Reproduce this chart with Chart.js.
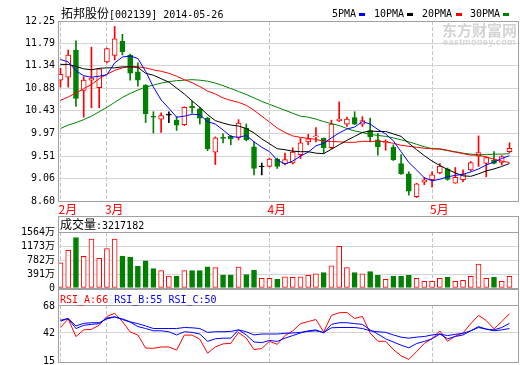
<!DOCTYPE html>
<html>
<head>
<meta charset="utf-8">
<script src="https://cdn.jsdelivr.net/npm/chart.js@4.4.1/dist/chart.umd.min.js"></script>
<style>
  html, body { margin: 0; padding: 0; background: #fff; }
  body { width: 520px; height: 365px; position: relative; overflow: hidden; }
  canvas { position: absolute; left: 0; }
  .txt { position: absolute; white-space: nowrap; font-family: "DejaVu Sans Mono", monospace; font-size: 10px; line-height: 12px; z-index: 5; }
  .cn { font-family: "Noto Sans CJK SC"; font-size: 12px; }
  .dash { position: absolute; width: 6px; height: 3px; z-index: 5; }
</style>
</head>
<body>
<canvas id="priceChart" width="520" height="216" style="top:0"></canvas>
<canvas id="volChart" width="520" height="81" style="top:216px"></canvas>
<canvas id="rsiChart" width="520" height="82" style="top:289px"></canvas>

<div class="txt" style="left:61px;top:7px"><span class="cn">拓邦股份</span>[002139] 2014-05-26</div>

<div class="txt" style="left:332px;top:8px">5PMA</div><div class="dash" style="left:359px;top:13px;background:#0000ff"></div>
<div class="txt" style="left:374px;top:8px">10PMA</div><div class="dash" style="left:407px;top:13px;background:#000"></div>
<div class="txt" style="left:422px;top:8px">20PMA</div><div class="dash" style="left:456px;top:13px;background:#ff0000"></div>
<div class="txt" style="left:470px;top:8px">30PMA</div><div class="dash" style="left:503px;top:13px;background:#008000"></div>

<div class="txt" style="left:442px;top:21px;font-family:'Noto Sans CJK SC';font-size:15px;font-weight:bold;color:#d4d4d4;line-height:17px">东方财富网</div>
<div class="txt" style="left:443px;top:37px;font-family:'Liberation Sans';font-size:9px;font-weight:bold;color:#d4d4d4;line-height:10px;letter-spacing:0.4px">eastmoney.com</div>

<div class="txt" style="left:60px;top:218px"><span class="cn">成交量</span>:3217182</div>
<div class="txt" style="left:60px;top:294px"><span style="color:#ff0000">RSI_A:66</span> <span style="color:#0000ff">RSI_B:55</span> <span style="color:#0000ff">RSI_C:50</span></div>

<script>
// daily candles, 2014-02-21 .. 2014-05
const open  = [11.05,11.11,11.66,10.84,11.05,10.90,11.42,11.55,11.84,11.56,11.22,10.95,10.32,10.26,10.34,10.24,10.15,10.52,10.47,10.28,
               9.59,9.88,9.91,9.89,10.08,9.70,9.29,9.30,9.45,9.35,9.37,9.54,9.80,9.90,9.87,9.68,10.23,10.16,10.29,10.16,
               10.03,9.84,9.79,9.69,9.36,9.15,8.69,8.98,9.03,9.17,9.24,8.96,9.03,9.23,9.51,9.36,9.43,9.38,9.60];
const high  = [11.29,11.66,11.85,11.12,11.72,11.29,11.70,12.14,11.98,11.58,11.40,10.96,10.41,10.39,10.41,10.31,10.51,10.62,10.50,10.30,
               9.90,9.96,9.93,10.25,10.16,9.80,9.37,9.47,9.47,9.57,9.68,9.87,9.95,10.09,9.88,10.24,10.61,10.30,10.41,10.31,
               10.28,9.97,9.84,9.74,9.54,9.19,8.96,9.08,9.19,9.36,9.27,9.28,9.23,9.40,9.92,9.50,9.60,9.52,9.78];
const low   = [10.91,10.91,10.52,10.30,10.49,10.49,11.40,11.46,11.56,11.05,10.93,10.19,9.98,9.99,10.19,10.03,10.13,10.38,10.16,9.62,
               9.34,9.78,9.74,9.84,9.82,9.13,9.13,9.29,9.26,9.33,9.35,9.46,9.74,9.80,9.57,9.66,10.21,10.11,10.15,10.11,
               9.80,9.53,9.63,9.42,9.14,8.72,8.67,8.93,8.88,9.15,9.02,8.96,8.99,9.21,9.30,9.09,9.35,9.33,9.58];
const close = [11.17,11.56,10.68,11.05,11.09,11.28,11.69,11.89,11.63,11.19,11.05,10.37,10.30,10.33,10.34,10.14,10.50,10.49,10.28,9.66,
               9.88,9.87,9.86,10.18,9.84,9.26,9.29,9.45,9.30,9.44,9.59,9.78,9.86,9.92,9.68,10.16,10.26,10.26,10.16,10.23,
               9.90,9.70,9.81,9.44,9.15,8.80,8.95,9.03,9.13,9.31,9.04,9.08,9.15,9.38,9.58,9.48,9.36,9.50,9.67];

const ma5  = [11.47,11.42,11.24,11.14,11.11,11.13,11.16,11.40,11.52,11.54,11.49,11.23,10.91,10.65,10.48,10.30,10.32,10.36,10.35,10.21,
              10.16,10.04,9.91,9.89,9.93,9.80,9.69,9.60,9.43,9.35,9.41,9.51,9.59,9.72,9.77,9.88,9.98,10.06,10.10,10.21,
              10.16,10.05,9.96,9.82,9.60,9.38,9.23,9.07,9.01,9.04,9.09,9.12,9.14,9.19,9.25,9.33,9.39,9.46,9.52];
const ma10 = [11.37,11.37,11.33,11.28,11.26,11.29,11.30,11.30,11.32,11.32,11.31,11.19,11.15,11.08,11.01,10.89,10.77,10.63,10.50,10.35,
              10.23,10.18,10.14,10.12,10.07,9.98,9.86,9.76,9.66,9.64,9.61,9.60,9.60,9.57,9.56,9.65,9.74,9.83,9.91,9.99,
              10.02,10.01,10.01,9.96,9.91,9.77,9.64,9.52,9.41,9.32,9.24,9.17,9.11,9.10,9.15,9.21,9.25,9.30,9.36];
const ma20 = [10.64,10.71,10.79,10.88,10.96,11.08,11.17,11.25,11.30,11.33,11.32,11.30,11.26,11.23,11.19,11.13,11.06,11.00,10.92,10.83,
              10.77,10.69,10.64,10.60,10.54,10.44,10.32,10.20,10.08,9.99,9.92,9.89,9.87,9.85,9.81,9.81,9.80,9.79,9.79,9.81,
              9.81,9.81,9.80,9.77,9.73,9.71,9.69,9.67,9.66,9.66,9.63,9.59,9.56,9.53,9.53,9.49,9.45,9.41,9.38];
const ma30 = [10.07,10.14,10.19,10.25,10.32,10.41,10.50,10.60,10.70,10.78,10.85,10.91,10.95,10.99,11.02,11.04,11.05,11.06,11.05,11.03,
              10.99,10.94,10.88,10.82,10.76,10.69,10.62,10.56,10.50,10.44,10.38,10.32,10.30,10.26,10.21,10.17,10.13,10.07,10.02,9.99,
              9.95,9.93,9.91,9.88,9.84,9.80,9.75,9.70,9.66,9.65,9.62,9.60,9.57,9.55,9.54,9.54,9.55,9.55,9.56];

// volume in 万 shares
const volume = [702,1053,1411,882,1367,828,1098,1367,891,864,603,756,540,486,333,333,486,486,486,594,
                567,360,360,585,378,495,270,270,243,315,297,315,351,396,432,621,1161,567,432,396,
                459,351,243,324,324,351,270,189,189,270,297,189,216,324,666,270,297,189,324];

const rsiA = [47.3,55.6,38.5,45,45.5,49.5,58,61,53,43,40,27.5,27.2,28.5,28.5,25.5,40,40,36,22.5,
              28.5,31.5,32,42.5,37,26,27,34,31,39.5,44,51,53,55,43,59,61.5,61.8,56,58,
              42,34,34,26,20,16.5,24,32,36.5,44,34,39,42,51,59,54,46,53,60.6];
const rsiB = [54.3,55.9,46.3,49.4,50.3,51,56.5,57.5,55,52.5,48.2,46.3,44.1,44.1,43.2,40.1,43.2,42.6,41,33.9,
              36.4,37,37,45,40.1,33.3,32.7,34.8,33.9,37,39.5,42,44.1,45,42,50.3,51.9,51.9,51,50.3,
              45,41,36.4,33.3,30.2,27.7,31.8,33.9,36.4,41,36.4,38.6,40.1,44.1,48.2,45.7,45,47.3,51.3];
const rsiC = [53.4,55.9,48.8,51.3,51.9,51.9,55.6,57.5,55.6,52.8,51,48.8,46.3,46.3,46.3,46.3,47.3,47,46.3,42.6,
              43.2,43.2,43.5,45,43.2,40.1,41,41,41,41.7,42,42.6,43.5,44.1,42.6,47,47.3,47.3,47.3,46.3,
              44.1,43.2,42.6,40.1,38,37,38,38.6,40.1,41,39.5,40.7,41.7,44.1,47.3,45.7,44.1,45,46.3];

const priceTicks = [8.60, 9.06, 9.51, 9.97, 10.43, 10.88, 11.34, 11.79, 12.25];
const volTicks = [0, 391, 782, 1173, 1564];
const rsiTicks = [15, 42, 68];
const monthPos = [0, 6, 27, 48];
const monthLabels = ['2月', '3月', '4月', '5月'];

const RED = '#ff0000', GREEN = '#008000', BLACK = '#000000', BLUE = '#0000ff';
const GRID = '#d4d4d4', FRAME = '#a0a0a0', DASH_GRID = '#c4c4c4';
const MONO = '"DejaVu Sans Mono", "Noto Sans CJK SC", monospace';

const idx = close.map((_, i) => i);
const candleColor = i => close[i] > open[i] ? RED : (close[i] < open[i] ? GREEN : BLACK);
const points = arr => idx.map(i => ({ x: i, y: arr[i] }));

// grey frame round the plot, optional header strip above it
const framePlugin = {
  id: 'frame',
  afterDraw(chart, args, opts) {
    const { ctx, chartArea: a } = chart;
    const top = opts.headTop !== undefined ? opts.headTop : a.top;
    ctx.save();
    ctx.strokeStyle = FRAME;
    ctx.lineWidth = 1;
    ctx.strokeRect(a.left + 0.5, top + 0.5, a.right - a.left, a.bottom - top);
    if (opts.headTop !== undefined) {
      ctx.beginPath();
      ctx.moveTo(a.left, a.top + 0.5);
      ctx.lineTo(a.right + 1, a.top + 0.5);
      ctx.stroke();
    }
    ctx.restore();
  }
};

function xScale(showLabels, height) {
  return {
    type: 'linear', min: -0.32, max: 59.1, offset: false,
    afterBuildTicks: s => { s.ticks = monthPos.map(v => ({ value: v })); },
    afterFit: s => { s.height = height; },
    grid: { color: DASH_GRID, drawTicks: false, offset: false },
    border: { display: false, dash: [4, 2] },
    ticks: {
      display: showLabels, autoSkip: false, maxRotation: 0, align: 'start', labelOffset: -2, padding: 1,
      color: RED, font: { family: '"Noto Sans CJK SC"', size: 12 },
      callback: (v, i) => monthLabels[i]
    }
  };
}

function yScale(min, max, ticks, fmt, gridColor) {
  return {
    position: 'left', min, max,
    afterBuildTicks: s => { s.ticks = ticks.map(v => ({ value: v })); },
    afterFit: s => { s.width = 58; },
    grid: { color: gridColor || GRID, drawTicks: false },
    border: { display: false },
    ticks: { padding: 3, color: BLACK, font: { family: MONO, size: 10 }, callback: fmt }
  };
}

function baseOptions(padTop, frameOpts, scales) {
  return {
    responsive: false, animation: false, events: [],
    layout: { padding: { top: padTop, right: 2, left: 0, bottom: 0 } },
    plugins: { legend: { display: false }, tooltip: { enabled: false }, frame: frameOpts },
    scales
  };
}

function maLine(arr, color) {
  return { type: 'line', data: points(arr), borderColor: color, borderWidth: 1, pointRadius: 0, tension: 0, order: 1 };
}

// price panel: wicks, bodies and the four moving averages
new Chart(document.getElementById('priceChart'), {
  type: 'bar',
  data: {
    datasets: [
      { data: idx.map(i => ({ x: i, y: [low[i], high[i]] })), backgroundColor: idx.map(candleColor),
        barThickness: 1, grouped: false, order: 3 },
      { data: idx.map(i => ({ x: i, y: [open[i], close[i]] })),
        backgroundColor: idx.map(i => close[i] > open[i] ? '#ffffff' : candleColor(i)),
        borderColor: idx.map(candleColor), borderWidth: 1, borderSkipped: false,
        barThickness: 5, minBarLength: 1, grouped: false, order: 2 },
      maLine(ma5, BLUE),
      maLine(ma10, BLACK),
      maLine(ma20, RED),
      maLine(ma30, GREEN)
    ]
  },
  options: baseOptions(21, {}, {
    x: xScale(true, 15),
    y: yScale(8.60, 12.25, priceTicks, v => v.toFixed(2))
  }),
  plugins: [framePlugin]
});

// volume panel
new Chart(document.getElementById('volChart'), {
  type: 'bar',
  data: {
    datasets: [{
      data: points(volume),
      backgroundColor: idx.map(i => close[i] >= open[i] ? '#ffffff' : GREEN),
      borderColor: idx.map(i => close[i] >= open[i] ? RED : GREEN),
      borderWidth: 1, borderSkipped: false, barThickness: 5, grouped: false
    }]
  },
  options: baseOptions(16, { headTop: 0 }, {
    x: xScale(false, 8),
    y: yScale(0, 1564, volTicks, v => v === 0 ? '0' : v + '万')
  }),
  plugins: [framePlugin]
});

// RSI panel
new Chart(document.getElementById('rsiChart'), {
  type: 'line',
  data: {
    datasets: [
      { data: points(rsiC), borderColor: BLUE, borderWidth: 1, pointRadius: 0, tension: 0 },
      { data: points(rsiB), borderColor: BLUE, borderWidth: 1, pointRadius: 0, tension: 0 },
      { data: points(rsiA), borderColor: RED, borderWidth: 1, pointRadius: 0, tension: 0 }
    ]
  },
  options: baseOptions(16, { headTop: 0 }, {
    x: xScale(false, 8),
    y: yScale(14, 69, rsiTicks, v => String(v), c => c.tick && c.tick.value === 42 ? GRID : 'rgba(0,0,0,0)')
  }),
  plugins: [framePlugin]
});
</script>
</body>
</html>
